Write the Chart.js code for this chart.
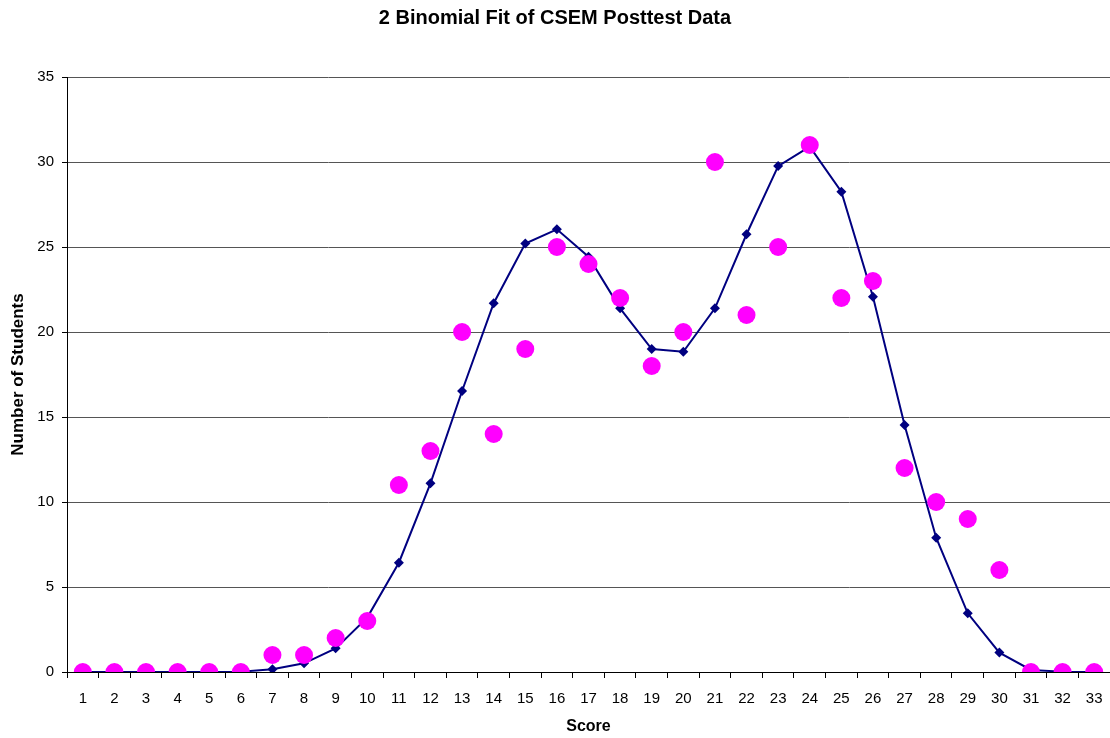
<!DOCTYPE html>
<html>
<head>
<meta charset="utf-8">
<script src="https://cdn.jsdelivr.net/npm/chart.js@4/dist/chart.umd.min.js"></script>
<style>
  html, body { margin: 0; padding: 0; background: #fff; }
  #wrap { width: 1110px; height: 738px; }
</style>
</head>
<body>
<div id="wrap"><canvas id="c" width="1110" height="738"></canvas></div>
<script>
// Scores 1..33
const scores = Array.from({ length: 33 }, (_, i) => String(i + 1));

// Observed number of students per score
const observed = [0, 0, 0, 0, 0, 0, 1, 1, 2, 3, 11, 13, 20, 14, 19, 25, 24, 22, 18, 20,
                  30, 21, 25, 31, 22, 23, 12, 10, 9, 6, 0, 0, 0];

// Two-binomial model fit
const fitted = [0, 0, 0, 0, 0, 0.02, 0.16, 0.51, 1.39, 3.2, 6.43, 11.1, 16.53, 21.69, 25.2, 26.04,
                24.43, 21.39, 19.0, 18.84, 21.39, 25.75, 29.76, 30.9, 28.25, 22.08, 14.53,
                7.9, 3.45, 1.14, 0.12, 0.02, 0];

const yTicks = [0, 5, 10, 15, 20, 25, 30, 35];

const FONT = "'Liberation Sans', Arial, sans-serif";

new Chart(document.getElementById('c'), {
  type: 'line',
  data: {
    labels: scores,
    datasets: [
      {
        label: 'Observed',
        data: observed,
        showLine: false,
        pointStyle: 'circle',
        pointRadius: 9,
        pointHoverRadius: 9,
        pointBackgroundColor: '#ff00ff',
        pointBorderColor: '#ff00ff',
        pointBorderWidth: 0,
        order: 0
      },
      {
        label: 'Fit',
        data: fitted,
        borderColor: '#000080',
        borderWidth: 2,
        tension: 0,
        pointStyle: 'rectRot',
        pointRadius: 5,
        pointHoverRadius: 5,
        pointBackgroundColor: '#000080',
        pointBorderColor: '#000080',
        pointBorderWidth: 0,
        order: 1
      }
    ]
  },
  options: {
    responsive: false,
    animation: false,
    layout: { autoPadding: false, padding: 0 },
    plugins: {
      legend: { display: false },
      tooltip: { enabled: false },
      title: {
        display: true,
        text: '2 Binomial Fit of CSEM Posttest Data',
        color: '#000',
        font: { family: FONT, size: 20, weight: 'bold', lineHeight: 1.2 },
        padding: { top: 6, bottom: 47 }
      }
    },
    scales: {
      x: {
        type: 'category',
        offset: true,
        // plot runs right up to the canvas edge
        afterFit: (s) => { s.height = 66; s.paddingLeft = 0; s.paddingRight = 0; },
        border: { display: true, color: '#000', width: 1 },
        grid: {
          offset: true,
          drawOnChartArea: false,
          drawTicks: true,
          tickLength: 6,
          color: '#000'
        },
        ticks: {
          color: '#000',
          font: { family: FONT, size: 15 },
          padding: 12,
          maxRotation: 0,
          autoSkip: false
        },
        title: {
          display: true,
          text: 'Score',
          color: '#000',
          font: { family: FONT, size: 16, weight: 'bold', lineHeight: 1.2 },
          padding: { top: 0, bottom: 2 }
        }
      },
      y: {
        min: 0,
        max: 35,
        afterFit: (s) => { s.width = 67; },
        afterBuildTicks: (s) => { s.ticks = yTicks.map(v => ({ value: v })); },
        border: { display: true, color: '#000', width: 1 },
        grid: {
          color: '#555',
          lineWidth: 1,
          drawTicks: true,
          tickLength: 5,
          tickColor: '#000'
        },
        ticks: {
          color: '#000',
          font: { family: FONT, size: 15 },
          padding: 8
        },
        title: {
          display: true,
          text: 'Number of Students',
          color: '#000',
          font: { family: FONT, size: 17, weight: 'bold', lineHeight: 1.2 },
          padding: { top: 8, bottom: 0 }
        }
      }
    }
  }
});
</script>
</body>
</html>
